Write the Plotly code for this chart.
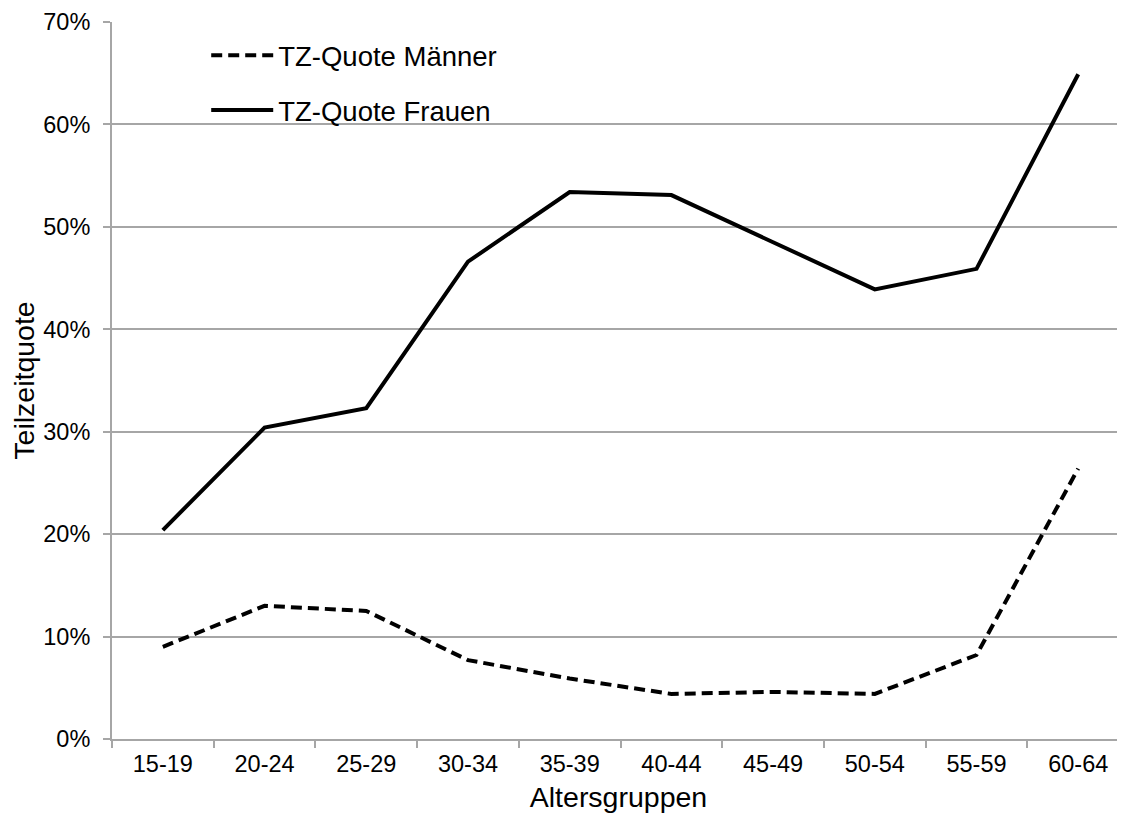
import plotly.graph_objects as go

# --- Daten (Teilzeitquote nach Altersgruppen) ---
altersgruppen = ["15-19", "20-24", "25-29", "30-34", "35-39",
                 "40-44", "45-49", "50-54", "55-59", "60-64"]
tz_maenner = [9.0, 13.0, 12.5, 7.7, 5.9, 4.4, 4.6, 4.4, 8.2, 26.4]
tz_frauen = [20.4, 30.4, 32.3, 46.6, 53.4, 53.1, 48.5, 43.9, 45.9, 64.9]
y_ticks = [0, 10, 20, 30, 40, 50, 60, 70]

GRAU = "#a6a6a6"
FONT = "Liberation Sans, Arial, sans-serif"

fig = go.Figure()

fig.add_trace(go.Scatter(
    x=altersgruppen, y=tz_maenner, mode="lines", name="TZ-Quote Männer",
    legendgroup="m",
    line=dict(color="black", width=4, dash="11px,6px"),
))
fig.add_trace(go.Scatter(
    x=altersgruppen, y=tz_frauen, mode="lines", name="TZ-Quote Frauen",
    legendgroup="f",
    line=dict(color="black", width=4),
))

# Seite hat 8px Rand -> Figur etwas kleiner
fig.update_layout(
    width=1117, height=809,
    margin=dict(l=104, r=0, t=14, b=78),
    paper_bgcolor="white", plot_bgcolor="white",
    font=dict(family=FONT, color="black", size=23.5),
    showlegend=True,
    legend=dict(
        x=0.093, y=0.9875, xanchor="left", yanchor="top",
        font=dict(size=27.5), itemwidth=62, tracegroupgap=16,
        bgcolor="rgba(0,0,0,0)", borderwidth=0,
    ),
)

fig.update_xaxes(
    range=[-0.5, 9.46], automargin=False,
    showgrid=False, zeroline=False,
    showline=True, linecolor=GRAU, linewidth=2,
    ticks="outside", tickson="boundaries", ticklen=7, tickcolor=GRAU, tickwidth=2,
    tickfont=dict(size=23.5), ticklabelstandoff=3,
    title=dict(text="Altersgruppen", font=dict(size=28.5), standoff=11),
)
fig.update_yaxes(
    range=[0, 70], tickvals=y_ticks, ticktext=[f"{v}%" for v in y_ticks],
    automargin=False,
    showgrid=True, gridcolor=GRAU, gridwidth=2, zeroline=False,
    showline=True, linecolor=GRAU, linewidth=2,
    ticks="outside", ticklen=7, tickcolor=GRAU, tickwidth=2,
    tickfont=dict(size=23.5), ticklabelstandoff=8,
    title=dict(text="Teilzeitquote", font=dict(size=28.5), standoff=18),
)

fig.write_html("out.html")
